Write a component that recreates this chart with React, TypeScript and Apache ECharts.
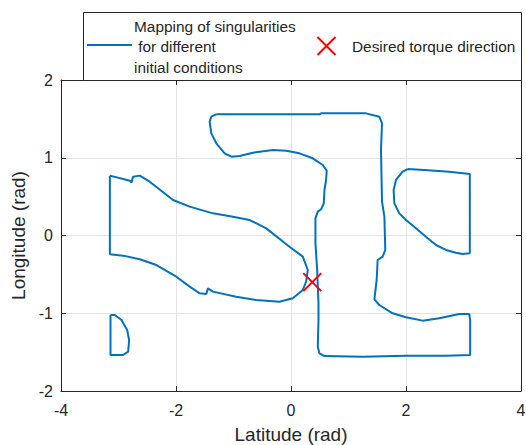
import React, { useEffect, useRef } from "react";
import * as echarts from "echarts";

const seriesName = "Mapping of singularities\n for different\ninitial conditions";
const markerName = "Desired torque direction";

const xTicks = [-4, -2, 0, 2, 4];
const yTicks = [-2, -1, 0, 1, 2];

const loopLeft: number[][] = [
  [-3.15, 0.77], [-2.8, 0.705], [-2.775, 0.68], [-2.746, 0.757], [-2.63, 0.77],
  [-2.457, 0.692], [-2.051, 0.457], [-1.762, 0.371], [-1.357, 0.285], [-1.009, 0.242],
  [-0.72, 0.199], [-0.43, 0.092], [-0.026, -0.144], [0.205, -0.272], [0.292, -0.444],
  [0.263, -0.594], [0.205, -0.701], [0.031, -0.808], [-0.2, -0.851], [-0.604, -0.83],
  [-0.952, -0.787], [-1.357, -0.722], [-1.445, -0.68], [-1.473, -0.752], [-1.588, -0.744],
  [-1.762, -0.658], [-1.994, -0.53], [-2.341, -0.38], [-2.63, -0.306], [-2.92, -0.259],
  [-3.15, -0.242], [-3.15, 0.77],
];

const loopCenter: number[][] = [
  [-1.299, 1.559], [0.494, 1.559], [0.524, 1.571], [1.305, 1.571], [1.536, 1.528],
  [1.583, 1.443], [1.565, 1.1], [1.583, 0.435], [1.624, 0.242], [1.64, -0.186],
  [1.594, -0.272], [1.507, -0.315], [1.49, -0.572], [1.45, -0.821], [1.536, -0.894],
  [1.767, -1.001], [2.0, -1.052], [2.289, -1.095], [2.578, -1.065], [2.925, -1.01],
  [3.099, -1.01], [3.116, -1.087], [3.116, -1.537], [2.694, -1.546], [2.0, -1.546],
  [1.247, -1.558], [0.582, -1.55], [0.494, -1.515], [0.466, -1.43], [0.478, -1.087],
  [0.478, -0.872], [0.455, -0.444], [0.425, -0.101], [0.425, 0.221], [0.466, 0.307],
  [0.524, 0.337], [0.57, 0.414], [0.582, 0.585], [0.61, 0.714], [0.621, 0.834],
  [0.552, 0.907], [0.378, 0.993], [0.147, 1.057], [-0.083, 1.091], [-0.315, 1.1],
  [-0.662, 1.065], [-0.894, 1.023], [-1.038, 1.014], [-1.154, 1.057], [-1.299, 1.186],
  [-1.386, 1.314], [-1.415, 1.464], [-1.386, 1.528], [-1.299, 1.559],
];

const loopRight: number[][] = [
  [2.028, 0.855], [2.317, 0.842], [2.752, 0.821], [3.11, 0.791], [3.11, -0.229],
  [2.984, -0.238], [2.868, -0.221], [2.694, -0.186], [2.521, -0.122], [2.346, -0.015],
  [2.173, 0.092], [2.0, 0.199], [1.883, 0.285], [1.797, 0.414], [1.785, 0.585],
  [1.826, 0.714], [1.941, 0.821], [2.028, 0.855],
];

const loopSmall: number[][] = [
  [-3.139, -1.023], [-3.139, -1.537], [-2.92, -1.537], [-2.832, -1.494], [-2.815, -1.344],
  [-2.849, -1.215], [-2.948, -1.087], [-3.064, -1.023], [-3.139, -1.023],
];

const desiredPoint: number[][] = [[0.37, -0.6]];

const BLUE = "#0072BD";
const RED = "#FF0000";
const AX = "#262626";
const FONT = "'Liberation Sans', Arial, Helvetica, sans-serif";

export default function App() {
  const ref = useRef<HTMLDivElement>(null);
  useEffect(() => {
    document.body.style.margin = "0";
    const chart = echarts.init(ref.current!, null, { renderer: "svg" });
    const loops = [loopLeft, loopCenter, loopRight, loopSmall];
    const axisCommon = {
      axisLine: { show: true, onZero: false, lineStyle: { color: AX, width: 1 } },
      axisTick: { show: true, inside: true, length: 5, lineStyle: { color: AX } },
    };
    const option: any = {
      animation: false,
      backgroundColor: "#ffffff",
      textStyle: { fontFamily: FONT },
      grid: { left: 61, top: 80, right: 5, bottom: 54, containLabel: false, outerBoundsMode: "none" },
      xAxis: [
        {
          type: "value", min: xTicks[0], max: xTicks[xTicks.length - 1], interval: 2,
          position: "bottom", ...axisCommon,
          axisLabel: { fontSize: 16, color: AX, margin: 11, fontFamily: FONT },
          splitLine: { show: true, lineStyle: { color: "#e4e4e4", width: 1 } },
          name: "Latitude (rad)", nameLocation: "middle", nameGap: 34,
          nameTextStyle: { fontSize: 19, color: AX, fontFamily: FONT },
        },
        {
          type: "value", min: xTicks[0], max: xTicks[xTicks.length - 1], interval: 2,
          position: "top", ...axisCommon,
          axisLabel: { show: false }, splitLine: { show: false },
        },
      ],
      yAxis: [
        {
          type: "value", min: yTicks[0], max: yTicks[yTicks.length - 1], interval: 1,
          position: "left", ...axisCommon,
          axisLabel: { fontSize: 16, color: AX, margin: 8, fontFamily: FONT },
          splitLine: { show: true, lineStyle: { color: "#e4e4e4", width: 1 } },
          name: "Longitude (rad)", nameLocation: "middle", nameGap: 28,
          nameTextStyle: { fontSize: 19, color: AX, fontFamily: FONT },
        },
        {
          type: "value", min: yTicks[0], max: yTicks[yTicks.length - 1], interval: 1,
          position: "right", ...axisCommon,
          axisLabel: { show: false }, splitLine: { show: false },
        },
      ],
      series: [
        ...loops.map((d) => ({
          name: seriesName,
          type: "line",
          data: d,
          xAxisIndex: 0,
          yAxisIndex: 0,
          showSymbol: false,
          symbol: "none",
          lineStyle: { color: BLUE, width: 2 },
          z: 3,
        })),
        {
          name: markerName,
          type: "custom",
          xAxisIndex: 0,
          yAxisIndex: 0,
          data: desiredPoint,
          z: 5,
          renderItem: (params: any, api: any) => {
            const p = api.coord([api.value(0), api.value(1)]);
            const h = 9;
            const style = { stroke: RED, lineWidth: 2 };
            return {
              type: "group",
              children: [
                { type: "line", shape: { x1: p[0] - h, y1: p[1] - h, x2: p[0] + h, y2: p[1] + h }, style },
                { type: "line", shape: { x1: p[0] - h, y1: p[1] + h, x2: p[0] + h, y2: p[1] - h }, style },
              ],
            };
          },
        },
      ],
      graphic: [
        {
          type: "rect", left: 83, top: 12, z: 10,
          shape: { x: 0, y: 0, width: 438, height: 68 },
          style: { fill: "#ffffff", stroke: AX, lineWidth: 1 },
        },
        {
          type: "line", z: 11,
          shape: { x1: 87, y1: 45, x2: 132, y2: 45 },
          style: { stroke: BLUE, lineWidth: 2 },
        },
        {
          type: "text", z: 11, x: 134, y: 26,
          style: { text: "Mapping of singularities", fontSize: 15.4, fill: AX, fontFamily: FONT, verticalAlign: "middle" },
        },
        {
          type: "text", z: 11, x: 134, y: 46,
          style: { text: " for different", fontSize: 15.4, fill: AX, fontFamily: FONT, verticalAlign: "middle" },
        },
        {
          type: "text", z: 11, x: 134, y: 67,
          style: { text: "initial conditions", fontSize: 15.4, fill: AX, fontFamily: FONT, verticalAlign: "middle" },
        },
        {
          type: "line", z: 11,
          shape: { x1: 317.5, y1: 37, x2: 335.5, y2: 55 },
          style: { stroke: RED, lineWidth: 2 },
        },
        {
          type: "line", z: 11,
          shape: { x1: 317.5, y1: 55, x2: 335.5, y2: 37 },
          style: { stroke: RED, lineWidth: 2 },
        },
        {
          type: "text", z: 11, x: 352, y: 46,
          style: { text: markerName, fontSize: 15.4, fill: AX, fontFamily: FONT, verticalAlign: "middle" },
        },
      ],
    };
    chart.setOption(option);
    return () => chart.dispose();
  }, []);
  return (
    <div
      ref={ref}
      style={{ position: "absolute", left: 0, top: 0, width: 526, height: 445 }}
    />
  );
}
